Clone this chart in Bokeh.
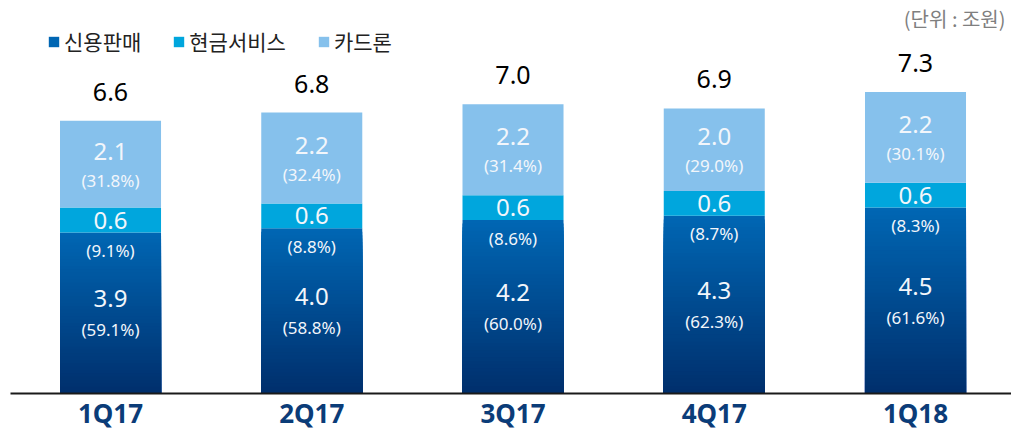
from bokeh.plotting import figure
from bokeh.models import ColumnDataSource, Legend, LegendItem, Label, FixedTicker
from bokeh.core.properties import value
from bokeh.embed import file_html
from bokeh.resources import INLINE

# ---- data ----
quarters = ["1Q17", "2Q17", "3Q17", "4Q17", "1Q18"]
credit_sales = [3.9, 4.0, 4.2, 4.3, 4.5]
cash_service = [0.6, 0.6, 0.6, 0.6, 0.6]
card_loan = [2.1, 2.2, 2.2, 2.0, 2.2]
totals = [6.6, 6.8, 7.0, 6.9, 7.3]
credit_pct = ["(59.1%)", "(58.8%)", "(60.0%)", "(62.3%)", "(61.6%)"]
cash_pct = ["(9.1%)", "(8.8%)", "(8.6%)", "(8.7%)", "(8.3%)"]
loan_pct = ["(31.8%)", "(32.4%)", "(31.4%)", "(29.0%)", "(30.1%)"]
series_names = ["신용판매", "현금서비스", "카드론"]
unit_text = "(단위 : 조원)"

# ---- styles ----
LIGHT = "#86C1EC"
CYAN = "#00A6DD"
DARK_TOP = (0x00, 0x66, 0xB3)
DARK_BOT = (0x00, 0x2E, 0x6B)
NUM_FONT = value("Noto Sans")
BAR_W = 0.502
N_SLICES = 48

xs = list(range(len(quarters)))
cash_top = [c + s for c, s in zip(credit_sales, cash_service)]
loan_top = [c + l for c, l in zip(cash_top, card_loan)]

p = figure(frame_width=1001, frame_height=385,
           x_range=(-0.497, 4.477), y_range=(0, 9.32),
           output_backend="svg", toolbar_location=None,
           min_border_left=10, min_border_right=0, min_border_top=8, min_border_bottom=30)
p.yaxis.visible = False
p.xgrid.visible = False
p.ygrid.visible = False
p.outline_line_color = None
p.background_fill_color = "white"

ax = p.xaxis[0]
ax.ticker = FixedTicker(ticks=xs)
ax.major_label_overrides = {i: q for i, q in zip(xs, quarters)}
ax.major_tick_line_color = None
ax.minor_tick_line_color = None
ax.axis_line_color = "#1a1a1a"
ax.axis_line_width = 2
ax.major_label_text_font = "Noto Sans"
ax.major_label_text_font_size = "26px"
ax.major_label_text_font_style = "bold"
ax.major_label_text_color = "#0B3C78"
ax.major_label_standoff = -5

# gradient credit-sales bars: overlapping slices from 0 up, tallest first
gx, gtop, gcol = [], [], []
for k in range(N_SLICES, 0, -1):
    f = k / N_SLICES
    r = round(DARK_BOT[0] + (DARK_TOP[0] - DARK_BOT[0]) * f)
    g = round(DARK_BOT[1] + (DARK_TOP[1] - DARK_BOT[1]) * f)
    b = round(DARK_BOT[2] + (DARK_TOP[2] - DARK_BOT[2]) * f)
    col = "#%02x%02x%02x" % (r, g, b)
    for x, v in zip(xs, credit_sales):
        gx.append(x)
        gtop.append(v * f)
        gcol.append(col)
grad_src = ColumnDataSource(dict(x=gx, top=gtop, color=gcol))
r_credit = p.vbar(x="x", top="top", bottom=0, width=BAR_W, source=grad_src,
                  fill_color="color", line_color=None)

r_cash = p.vbar(x=xs, bottom=credit_sales, top=cash_top, width=BAR_W,
                fill_color=CYAN, line_color=None)
r_loan = p.vbar(x=xs, bottom=cash_top, top=loan_top, width=BAR_W,
                fill_color=LIGHT, line_color=None)

# legend
legend = Legend(items=[LegendItem(label=series_names[0], renderers=[r_credit], index=0),
                       LegendItem(label=series_names[1], renderers=[r_cash]),
                       LegendItem(label=series_names[2], renderers=[r_loan])],
                orientation="horizontal", location=(37, 337),
                glyph_width=13, glyph_height=13, label_standoff=4, spacing=31,
                padding=0, margin=0, background_fill_alpha=0, border_line_color=None,
                label_text_font="Noto Sans CJK KR", label_text_font_size="21px",
                label_text_color="#222222")
p.add_layout(legend)

# totals
p.text(x=xs, y=loan_top, text=[f"{t:.1f}" for t in totals], text_font=NUM_FONT,
       text_font_size="25px", text_color="#000000", text_align="center",
       text_baseline="alphabetic", y_offset=-29)

WHITE = "#F2F6FB"
loan_mid = [(a + b) / 2 for a, b in zip(cash_top, loan_top)]
cash_mid = [(a + b) / 2 for a, b in zip(credit_sales, cash_top)]
credit_mid = [v / 2 for v in credit_sales]

def seg_labels(y, txt, size, off):
    p.text(x=xs, y=y, text=txt, text_font=NUM_FONT, text_font_size=size,
           text_color=WHITE, text_align="center", text_baseline="middle", y_offset=off)

seg_labels(loan_mid, [f"{v:.1f}" for v in card_loan], "24px", -13)
seg_labels(loan_mid, loan_pct, "17px", 16)
seg_labels(cash_mid, [f"{v:.1f}" for v in cash_service], "24px", 0)
seg_labels(credit_sales, cash_pct, "17px", 18)
seg_labels(credit_mid, [f"{v:.1f}" for v in credit_sales], "24px", -14)
seg_labels(credit_mid, credit_pct, "17px", 17)

p.add_layout(Label(x=995, y=375, x_units="screen", y_units="screen", text=unit_text,
                   text_align="right", text_baseline="middle", text_font="Noto Sans CJK KR",
                   text_font_size="20px", text_color="#7F7F7F"))

open("out.html", "w").write(file_html(p, INLINE))
